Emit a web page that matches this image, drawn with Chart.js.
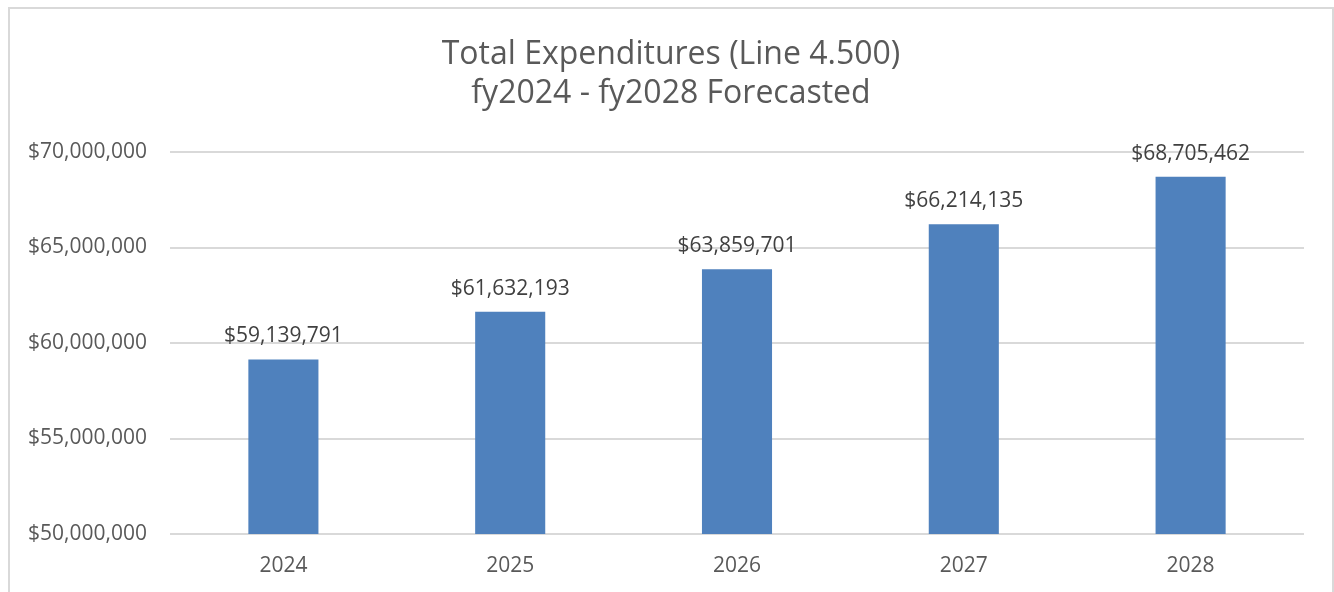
<!DOCTYPE html>
<html>
<head>
<meta charset="utf-8">
<script src="https://cdn.jsdelivr.net/npm/chart.js@4"></script>
<style>
  html, body { margin: 0; padding: 0; background: #fff; }
  body { width: 1334px; height: 592px; position: relative; overflow: hidden; }
  #frame { position: absolute; left: 8px; top: 7px; width: 1324px; height: 620px; border: 1px solid #d9d9d9; border-width: 2px 0 0 2px; box-sizing: border-box; }
  #frameR { position: absolute; left: 1332px; top: 7px; width: 2px; height: 620px; background: #d9d9d9; }
  #wrap { position: absolute; left: 0; top: 0; width: 1334px; height: 592px; }
</style>
</head>
<body>
<div id="frame"></div>
<div id="frameR"></div>
<div id="wrap"><canvas id="c"></canvas></div>
<script>
const titleLines = ["Total Expenditures (Line 4.500)", "fy2024 - fy2028 Forecasted"];
const categories = ["2024", "2025", "2026", "2027", "2028"];
const expenditures = [59139791, 61632193, 63859701, 66214135, 68705462];
const yMin = 50000000;
const yMax = 70000000;
const yStep = 5000000;

const FONT = "'Open Sans', 'Liberation Sans', sans-serif";
const money = v => "$" + Math.round(v).toLocaleString("en-US");

const chartTitle = {
  id: "chartTitle",
  afterDraw(chart) {
    const ctx = chart.ctx;
    ctx.save();
    ctx.font = "32px " + FONT;
    ctx.fillStyle = "#595959";
    ctx.textAlign = "center";
    ctx.textBaseline = "middle";
    const cx = 671;
    titleLines.forEach((line, i) => ctx.fillText(line, cx, 54.5 + i * 39));
    ctx.restore();
  }
};

const dataLabels = {
  id: "dataLabels",
  afterDatasetsDraw(chart) {
    const ctx = chart.ctx;
    const meta = chart.getDatasetMeta(0);
    ctx.save();
    ctx.font = "21px " + FONT;
    ctx.fillStyle = "#404040";
    ctx.textAlign = "center";
    ctx.textBaseline = "middle";
    meta.data.forEach((bar, i) => {
      ctx.fillText(money(chart.data.datasets[0].data[i]), bar.x, bar.y - 23);
    });
    ctx.restore();
  }
};

new Chart(document.getElementById("c"), {
  type: "bar",
  data: {
    labels: categories,
    datasets: [{
      data: expenditures,
      backgroundColor: "#4F81BD",
      borderWidth: 0,
      categoryPercentage: 1,
      barPercentage: 0.309
    }]
  },
  options: {
    responsive: true,
    maintainAspectRatio: false,
    animation: false,
    layout: { padding: { left: 0, right: 30, top: 152, bottom: 0 } },
    plugins: {
      legend: { display: false },
      tooltip: { enabled: false },
      title: { display: false }
    },
    scales: {
      x: {
        grid: { display: false, drawTicks: false },
        border: { display: false },
        ticks: { color: "#595959", font: { family: FONT, size: 21 }, padding: 19 },
        afterFit(scale) { scale.height = 58; }
      },
      y: {
        min: yMin,
        max: yMax,
        ticks: {
          stepSize: yStep,
          color: "#595959",
          font: { family: FONT, size: 21 },
          padding: 23,
          callback: v => money(v)
        },
        grid: { color: "#d9d9d9", lineWidth: 2, drawTicks: false },
        border: { display: false },
        afterFit(scale) { scale.width = 170; }
      }
    }
  },
  plugins: [dataLabels, chartTitle]
});
</script>
</body>
</html>
